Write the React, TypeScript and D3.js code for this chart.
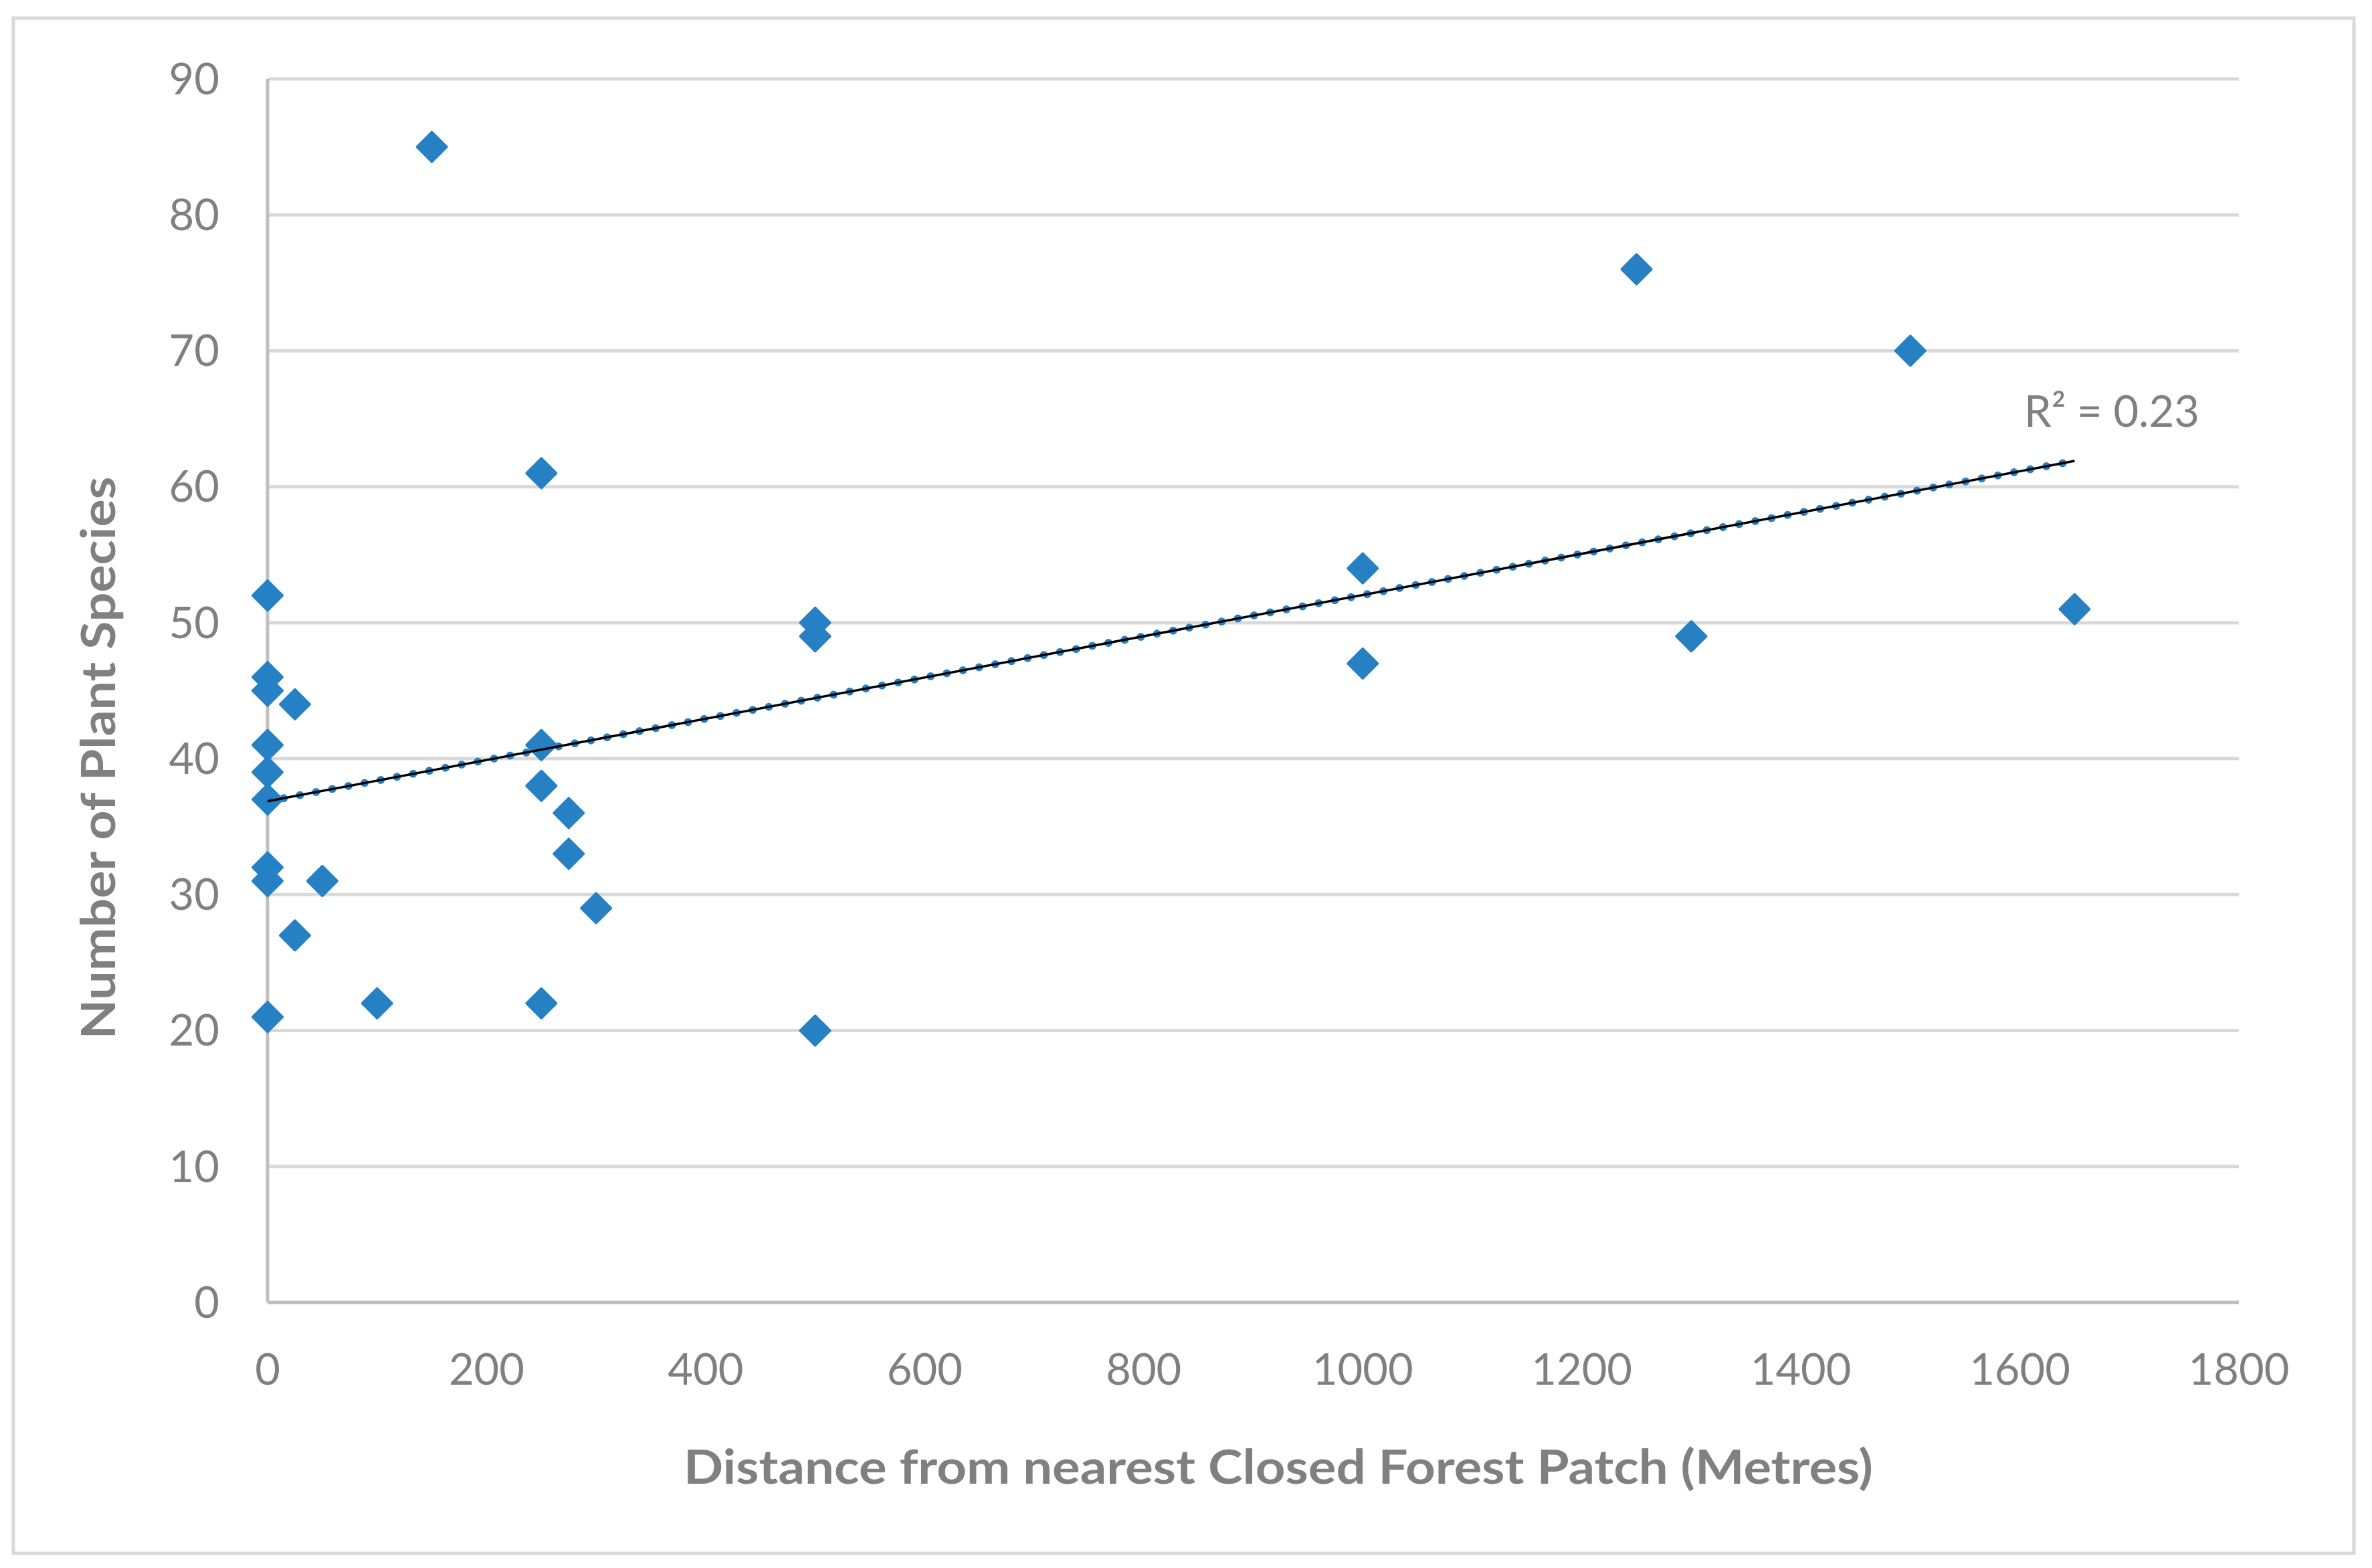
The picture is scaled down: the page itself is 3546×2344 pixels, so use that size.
import React from "react";
import * as d3 from "d3";

const distance = [150, 1250, 1500, 250, 0, 1000, 500, 500, 1650, 1300, 1000, 0, 0, 25, 0, 250, 0, 250, 0, 275, 275, 0, 0, 50, 300, 25, 100, 250, 0, 500];
const species = [85, 76, 70, 61, 52, 54, 50, 49, 51, 49, 47, 46, 45, 44, 41, 41, 39, 38, 37, 36, 33, 32, 31, 31, 29, 27, 22, 22, 21, 20];
const xTickValues = [0, 200, 400, 600, 800, 1000, 1200, 1400, 1600, 1800];
const yTickValues = [0, 10, 20, 30, 40, 50, 60, 70, 80, 90];
const xTitle = "Distance from nearest Closed Forest Patch (Metres)";
const yTitle = "Number of Plant Species";

const W = 3546;
const H = 2344;
const M = { left: 400, right: 3347, top: 118, bottom: 1947 };
const BLUE = "#2581c4";
const GRAY = "#808080";
const FONT = "Lato, 'Open Sans', sans-serif";

export default function App() {
  const x = d3.scaleLinear().domain([0, 1800]).range([M.left, M.right]);
  const y = d3.scaleLinear().domain([0, 90]).range([M.bottom, M.top]);

  const mx = d3.mean(distance) as number;
  const my = d3.mean(species) as number;
  let sxy = 0, sxx = 0, syy = 0;
  distance.forEach((d, i) => {
    sxy += (d - mx) * (species[i] - my);
    sxx += (d - mx) * (d - mx);
    syy += (species[i] - my) * (species[i] - my);
  });
  const slope = sxy / sxx;
  const intercept = my - slope * mx;
  const r2 = (sxy * sxy) / (sxx * syy);
  const x0 = d3.min(distance) as number;
  const x1 = d3.max(distance) as number;
  const trend = d3.line<number>().x((d) => x(d)).y((d) => y(intercept + slope * d))([x0, x1]) as string;

  const diamond = (cx: number, cy: number) => {
    const h = 22;
    return `M${cx},${cy - h}L${cx + h},${cy}L${cx},${cy + h}L${cx - h},${cy}Z`;
  };

  return (
    <svg width={W} height={H} style={{ position: "absolute", left: 0, top: 0, background: "#fff" }} fontFamily={FONT}>
      <rect x={0} y={0} width={W} height={H} fill="#fff" />
      <rect x={20} y={27} width={3499} height={2295} fill="none" stroke="#d9d9d9" strokeWidth={5} />
      {yTickValues.filter((v) => v > 0).map((v) => (
        <line key={"g" + v} x1={M.left} x2={M.right} y1={y(v)} y2={y(v)} stroke="#d9d9d9" strokeWidth={5} />
      ))}
      <line x1={M.left} x2={M.right} y1={y(0)} y2={y(0)} stroke="#bfbfbf" strokeWidth={5} />
      <line x1={M.left} x2={M.left} y1={y(90)} y2={y(0)} stroke="#bfbfbf" strokeWidth={5} />
      {yTickValues.map((v) => (
        <text key={"yt" + v} x={328} y={y(v)} dy="0.35em" textAnchor="end" fontSize={65} fill={GRAY}>{v}</text>
      ))}
      {xTickValues.map((v) => (
        <text key={"xt" + v} x={x(v)} y={2070} textAnchor="middle" fontSize={65} fill={GRAY}>{v}</text>
      ))}
      <text x={1911} y={2218} textAnchor="middle" fontSize={70} fontWeight="bold" fill={GRAY} textLength={1778} lengthAdjust="spacingAndGlyphs">{xTitle}</text>
      <text transform={`translate(172,1133) rotate(-90)`} textAnchor="middle" fontSize={70} fontWeight="bold" fill={GRAY} textLength={841} lengthAdjust="spacingAndGlyphs">{yTitle}</text>
      {distance.map((d, i) => (
        <path key={"p" + i} d={diamond(x(d), y(species[i]))} fill={BLUE} stroke={BLUE} strokeWidth={4} strokeLinejoin="round" />
      ))}
      <path d={trend} fill="none" stroke={BLUE} strokeWidth={12} strokeDasharray="0 24.6" strokeLinecap="round" />
      <path d={trend} fill="none" stroke="#000" strokeWidth={3.5} />
      <text x={3026} y={638} fontSize={65} fill={GRAY}>{`R² = ${d3.format(".2f")(r2)}`}</text>
    </svg>
  );
}
